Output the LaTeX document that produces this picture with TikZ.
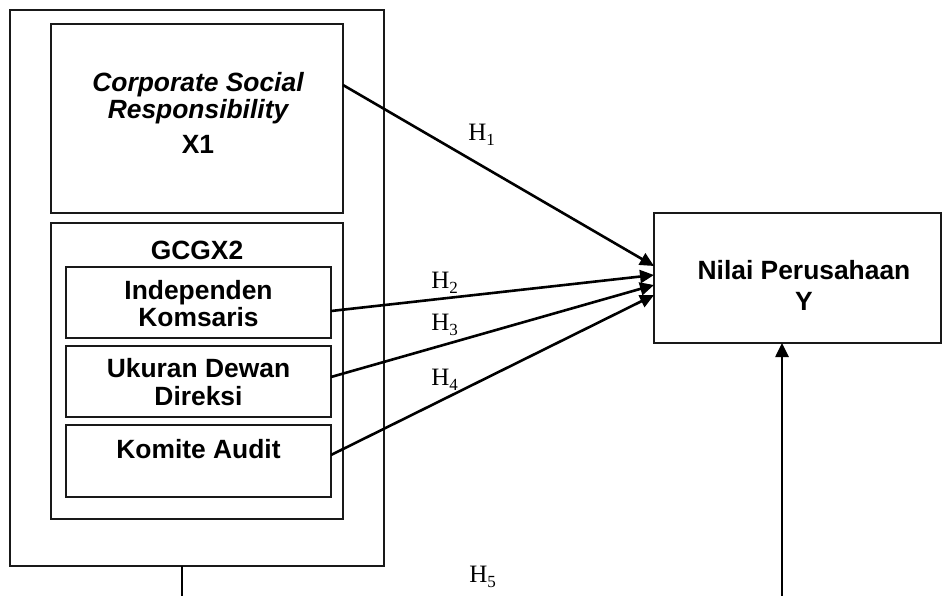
\documentclass[tikz,border=0pt]{standalone}
\usepackage{fontspec}
\setmainfont{Liberation Sans}
\newfontfamily\tnr{Liberation Serif}
\usetikzlibrary{arrows.meta}
\newcommand{\hlab}[1]{{\tnr\fontsize{12.5}{14}\selectfont H\raisebox{-0.45ex}{\fontsize{8.5}{9}\selectfont #1}}}
\tikzset{
  boxx/.style={draw=black!90, line width=1pt, inner sep=0pt, outer sep=0pt},
  txt/.style={font=\bfseries\fontsize{13.2}{15}\selectfont, inner sep=0pt, anchor=base},
  itxt/.style={font=\bfseries\itshape\fontsize{13.2}{15}\selectfont, inner sep=0pt, anchor=base},
  hl/.style={inner sep=0pt, anchor=base west},
  arr/.style={line width=1.3pt, -{Triangle[length=7pt,width=6.5pt]}},
  ln/.style={line width=1.1pt}
}
\begin{document}
\begin{tikzpicture}[x=0.5pt,y=-0.5pt]
\useasboundingbox (0,0) rectangle (943,595);
% boxes
\node[boxx, minimum width=187pt, minimum height=278pt] (outer) at (197,288) {};
\node[boxx, minimum width=146pt, minimum height=94.5pt] (csr) at (197,118.5) {};
\node[boxx, minimum width=146pt, minimum height=148pt] (gcg) at (197,371) {};
\node[boxx, minimum width=132.5pt, minimum height=35.5pt] (ind) at (198.5,302.5) {};
\node[boxx, minimum width=132.5pt, minimum height=35.5pt] (uk) at (198.5,381.5) {};
\node[boxx, minimum width=132.5pt, minimum height=36pt] (kom) at (198.5,461) {};
\node[boxx, minimum width=143.5pt, minimum height=65pt] (nilai) at (797.5,278) {};
% texts
\node[itxt] (t1) at (198,91) {Corporate Social};
\node[itxt] (t2) at (198,118) {Responsibility};
\node[txt] (t3) at (198,153) {X1};
\node[txt] (t4) at (197,259) {GCGX2};
\node[txt] (t5) at (198.5,299) {Independen};
\node[txt] (t6) at (198.5,326) {Komsaris};
\node[txt] (t7) at (198.5,377) {Ukuran Dewan};
\node[txt] (t8) at (198.5,405) {Direksi};
\node[txt] (t9) at (198.5,458) {Komite Audit};
\node[txt] (t10) at (804,279) {Nilai Perusahaan};
\node[txt] (t11) at (804,310) {Y};
% hypothesis labels
\node[hl] (h1) at (468,140) {\hlab{1}};
\node[hl] (h2) at (431,288) {\hlab{2}};
\node[hl] (h3) at (431,330) {\hlab{3}};
\node[hl] (h4) at (431,385) {\hlab{4}};
\node[hl] (h5) at (469,582) {\hlab{5}};
% arrows
\draw[arr] ([shift={(0,-33.5)}]csr.east) -- ([shift={(0,-12)}]nilai.west);
\draw[arr] ([shift={(0,8.5)}]ind.east) -- ([shift={(0,-3)}]nilai.west);
\draw[arr] ([shift={(0,-4.5)}]uk.east) -- ([shift={(0,7)}]nilai.west);
\draw[arr] ([shift={(0,-6)}]kom.east) -- ([shift={(0,17)}]nilai.west);
% H5 connector
\coordinate (b1) at (182,596);
\coordinate (b2) at (782,596);
\draw[ln] (outer.south -| b1) -- (b1);
\draw[arr] (b2) -- (nilai.south -| b2);
\end{tikzpicture}
\end{document}
